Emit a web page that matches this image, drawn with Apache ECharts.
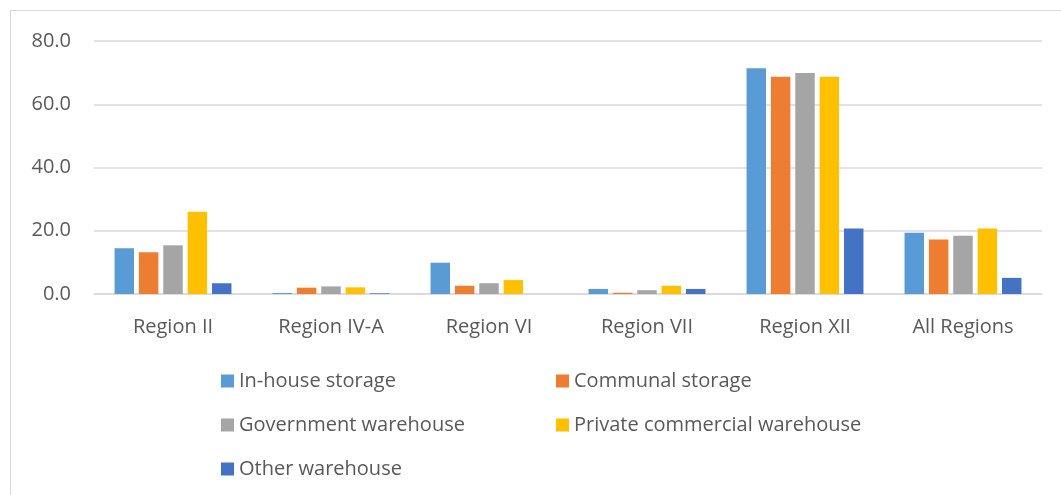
<!DOCTYPE html>
<html>
<head>
<meta charset="utf-8">
<script src="https://cdn.jsdelivr.net/npm/echarts@6/dist/echarts.min.js"></script>
<style>
html, body { margin: 0; padding: 0; background: #fff; }
#chart {
    position: absolute;
    left: 10px; top: 10px;
    width: 1060px; height: 500px;
    border: 1px solid #d9d9d9;
    box-sizing: border-box;
}
</style>
</head>
<body>
<div id="chart"></div>
<script>
var regions = ['Region II', 'Region IV-A', 'Region VI', 'Region VII', 'Region XII', 'All Regions'];
var seriesNames = ['In-house storage', 'Communal storage', 'Government warehouse', 'Private commercial warehouse', 'Other warehouse'];
var inHouse    = [14.5, 0.3, 9.9, 1.6, 71.4, 19.4];
var communal   = [13.2, 2.0, 2.6, 0.4, 68.7, 17.2];
var government = [15.4, 2.4, 3.4, 1.2, 69.9, 18.4];
var privateCom = [26.0, 2.1, 4.4, 2.6, 68.7, 20.7];
var other      = [3.4, 0.2, 0.0, 1.6, 20.7, 5.1];
var colors = ['#5B9BD5', '#ED7D31', '#A5A5A5', '#FFC000', '#4472C4'];
var allValues = [inHouse, communal, government, privateCom, other];

var myChart = echarts.init(document.getElementById('chart'));

// legend laid out in two columns like the original
var legendPos = [[205, 355], [540, 355], [205, 399], [540, 399], [205, 443]];
var legends = seriesNames.map(function (name, i) {
    return {
        data: [name],
        left: legendPos[i][0],
        top: legendPos[i][1],
        itemWidth: 13,
        itemHeight: 13,
        icon: 'rect',
        itemGap: 0,
        textStyle: {
            fontFamily: 'Open Sans',
            fontSize: 20,
            color: '#595959'
        }
    };
});

var option = {
    animation: false,
    color: colors,
    grid: {
        left: 83,
        right: 27,
        top: 30,
        bottom: 215
    },
    legend: legends,
    xAxis: {
        type: 'category',
        data: regions,
        axisLine: { lineStyle: { color: '#d9d9d9', width: 1.5 } },
        axisTick: { show: false },
        axisLabel: {
            fontFamily: 'Open Sans',
            fontSize: 20,
            color: '#595959',
            margin: 23
        }
    },
    yAxis: {
        type: 'value',
        min: 0,
        max: 80,
        interval: 20,
        axisLine: { show: false },
        axisTick: { show: false },
        splitLine: { lineStyle: { color: '#d9d9d9', width: 1.5 } },
        axisLabel: {
            fontFamily: 'Open Sans',
            fontSize: 20,
            color: '#595959',
            margin: 23,
            formatter: function (v) { return v.toFixed(1); }
        }
    },
    series: seriesNames.map(function (name, i) {
        return {
            name: name,
            type: 'bar',
            data: allValues[i],
            barGap: '25%',
            barCategoryGap: '26%',
            itemStyle: { color: colors[i] }
        };
    })
};
myChart.setOption(option);
</script>
</body>
</html>
